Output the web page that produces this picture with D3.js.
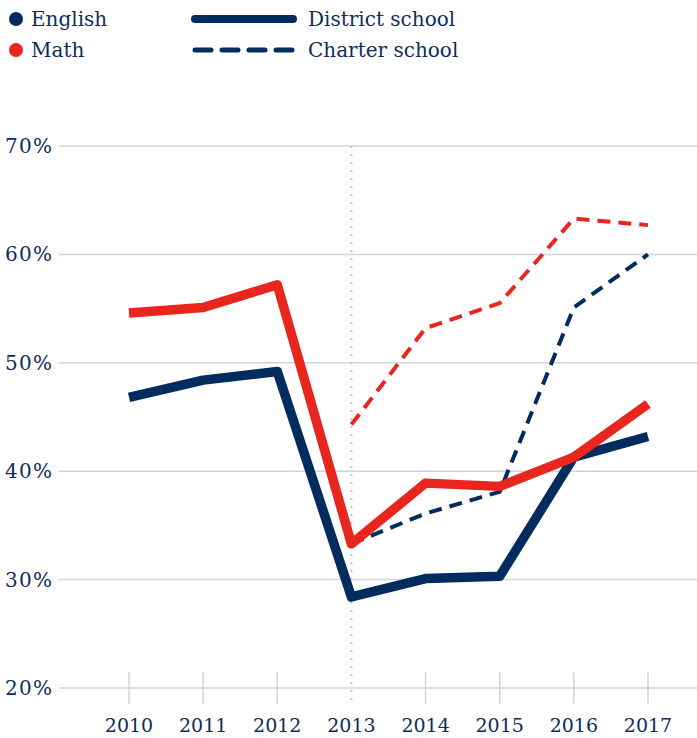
<html>
  <head>
    <title>District vs charter school scores</title>
    <script type="text/javascript" src="https://cdn.jsdelivr.net/npm/d3@7/dist/d3.min.js" charset="utf-8"></script>
    <style>
      body { margin: 0; background: #fff; }
      svg text { font-family: "DejaVu Serif"; fill: #0d2e5a; }
    </style>
  </head>
  <body>
    <div id="main"></div>
  <script>
    // data
    var years = [2010, 2011, 2012, 2013, 2014, 2015, 2016, 2017];
    var yTicks = [20, 30, 40, 50, 60, 70];
    var englishDistrict = [46.8, 48.4, 49.2, 28.4, 30.1, 30.3, 41.3, 43.2];
    var mathDistrict = [54.6, 55.1, 57.2, 33.3, 38.9, 38.6, 41.3, 46.2];
    // charter data starts in 2013
    var charterYears = [2013, 2014, 2015, 2016, 2017];
    var englishCharter = [33.3, 36.1, 38.1, 55.1, 60.0];
    var mathCharter = [44.3, 53.2, 55.5, 63.3, 62.7];

    var navy = '#022c5e';
    var red = '#e8261e';
    var grid = '#d0d4e2';

    var svgWidth = 697;
    var svgHeight = 738;

    var svg = d3.select('#main')
      .append('svg')
      .attr('width', svgWidth)
      .attr('height', svgHeight);

    var x = d3.scalePoint()
      .domain(years)
      .range([129, 648]);

    var y = d3.scaleLinear()
      .domain([20, 70])
      .range([688, 146]);

    // horizontal gridlines + labels
    var yAxis = svg.append('g');
    yAxis.selectAll('line')
      .data(yTicks)
      .enter()
      .append('line')
      .attr('x1', 59)
      .attr('x2', svgWidth)
      .attr('y1', function(d) { return y(d); })
      .attr('y2', function(d) { return y(d); })
      .attr('stroke', grid)
      .attr('stroke-width', 1.5);
    yAxis.selectAll('text')
      .data(yTicks)
      .enter()
      .append('text')
      .attr('x', 5)
      .attr('y', function(d) { return y(d) + 7; })
      .attr('font-size', 20)
      .attr('textLength', 47)
      .text(function(d) { return d + '%'; });

    // vertical tick stubs at the bottom
    svg.append('g').selectAll('line')
      .data(years.filter(function(d) { return d !== 2013; }))
      .enter()
      .append('line')
      .attr('x1', function(d) { return x(d); })
      .attr('x2', function(d) { return x(d); })
      .attr('y1', 672)
      .attr('y2', 704)
      .attr('stroke', grid)
      .attr('stroke-width', 1.5);

    // dotted marker at 2013
    svg.append('line')
      .attr('x1', x(2013))
      .attr('x2', x(2013))
      .attr('y1', y(70))
      .attr('y2', 705)
      .attr('stroke', '#bfc3d4')
      .attr('stroke-width', 2)
      .attr('stroke-dasharray', '2,6');

    svg.append('g').selectAll('text')
      .data(years)
      .enter()
      .append('text')
      .attr('x', function(d) { return x(d); })
      .attr('y', 732)
      .attr('text-anchor', 'middle')
      .attr('font-size', 19)
      .text(function(d) { return d; });

    var line = d3.line()
      .x(function(d) { return x(d[0]); })
      .y(function(d) { return y(d[1]); });

    function draw(xs, vals, color, width, dash) {
      var p = svg.append('path')
        .attr('d', line(d3.zip(xs, vals)))
        .attr('fill', 'none')
        .attr('stroke', color)
        .attr('stroke-width', width)
        .attr('stroke-linejoin', 'round');
      if (dash) p.attr('stroke-dasharray', dash);
    }

    draw(charterYears, mathCharter, red, 4, '13,8');
    draw(charterYears, englishCharter, navy, 4, '13,8');
    draw(years, englishDistrict, navy, 9.5);
    draw(years, mathDistrict, red, 9.5);

    // legend
    var legend = svg.append('g');
    legend.append('circle').attr('cx', 16).attr('cy', 19).attr('r', 7).attr('fill', navy);
    legend.append('circle').attr('cx', 16).attr('cy', 50).attr('r', 7).attr('fill', red);
    legend.append('text').attr('x', 31).attr('y', 26).attr('font-size', 20).text('English');
    legend.append('text').attr('x', 31).attr('y', 57).attr('font-size', 20).text('Math');
    legend.append('line')
      .attr('x1', 195).attr('x2', 293).attr('y1', 19).attr('y2', 19)
      .attr('stroke', navy).attr('stroke-width', 8).attr('stroke-linecap', 'round');
    legend.append('line')
      .attr('x1', 195).attr('x2', 293).attr('y1', 50).attr('y2', 50)
      .attr('stroke', navy).attr('stroke-width', 5).attr('stroke-linecap', 'round')
      .attr('stroke-dasharray', '16,11');
    legend.append('text').attr('x', 308).attr('y', 26).attr('font-size', 20).text('District school');
    legend.append('text').attr('x', 308).attr('y', 57).attr('font-size', 20).text('Charter school');
  </script>
  </body>
</html>
